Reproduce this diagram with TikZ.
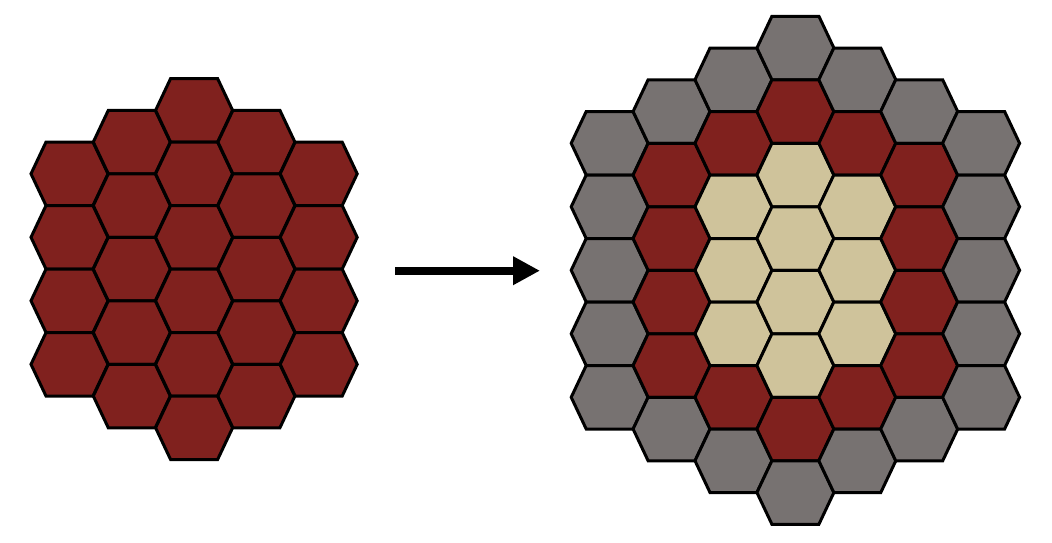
\documentclass[tikz,border=0pt]{standalone}
\usetikzlibrary{arrows.meta}
\definecolor{hexred}{RGB}{128,33,30}
\definecolor{hexgray}{RGB}{119,114,113}
\definecolor{hexbeige}{RGB}{207,195,155}
\colorlet{hG}{hexgray}
\colorlet{hR}{hexred}
\colorlet{hB}{hexbeige}
\tikzset{
  hexcell/.style={draw=black, line width=3pt, line join=miter},
  pics/hexagon/.style={code={
    \path[hexcell, fill=#1] (-38.5,0) -- (-23.5,-31.75) -- (23.5,-31.75) -- (38.5,0) -- (23.5,31.75) -- (-23.5,31.75) -- cycle;
  }},
  bigarrow/.style={line width=8pt, -{Triangle[length=27pt,width=27pt]}}
}
\begin{document}
\begin{tikzpicture}[x=1pt,y=-1pt]
\useasboundingbox (0,0) rectangle (1052,542);
% left group
\foreach \c in {0,...,4}{
  \pgfmathtruncatemacro{\k}{abs(\c-2)}
  \pgfmathtruncatemacro{\n}{5-\k}
  \foreach \i in {0,...,\n}{
    \pic at ({69.5+62.3*\c},{110.3+31.75*\k+63.5*\i}) {hexagon=hexred};
  }
}
% right group
\foreach \c/\cols in {0/{hG,hG,hG,hG,hG},1/{hG,hR,hR,hR,hR,hG},2/{hG,hR,hB,hB,hB,hR,hG},3/{hG,hR,hB,hB,hB,hB,hR,hG},4/{hG,hR,hB,hB,hB,hR,hG},5/{hG,hR,hR,hR,hR,hG},6/{hG,hG,hG,hG,hG}}{
  \pgfmathtruncatemacro{\k}{abs(\c-3)}
  \foreach \t [count=\i from 0] in \cols {
    \pic at ({609.7+61.9*\c},{48+31.75*\k+63.5*\i}) {hexagon=\t};
  }
}
% arrow
\coordinate (arrowstart) at (395,270.7);
\coordinate (arrowend) at (540,270.7);
\draw[bigarrow] (arrowstart) -- (arrowend);
\end{tikzpicture}
\end{document}
